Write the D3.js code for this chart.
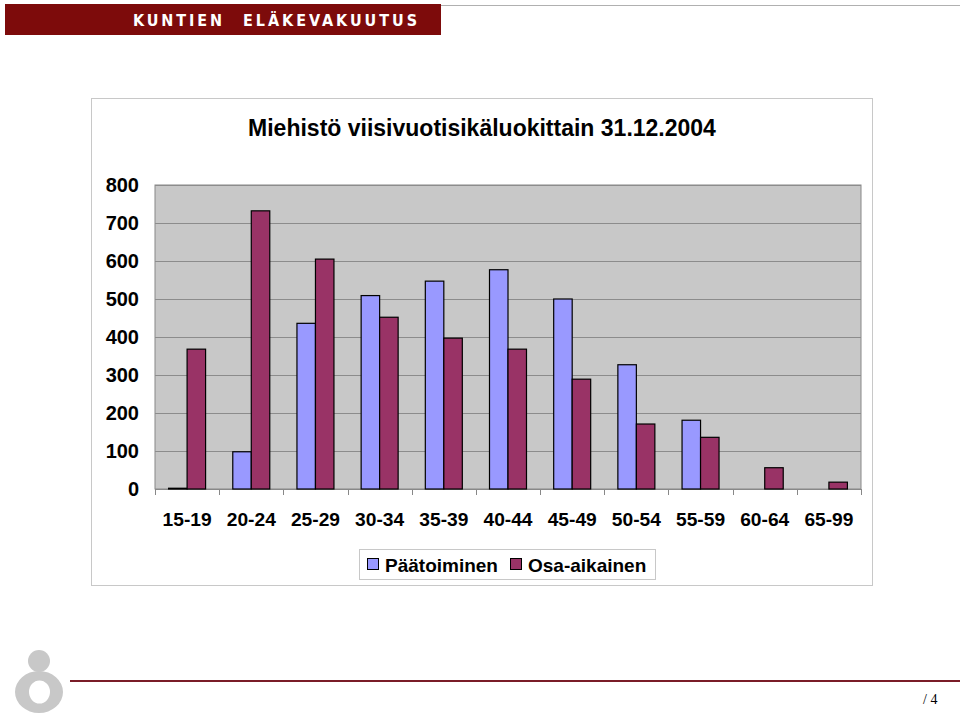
<!DOCTYPE html>
<html><head><meta charset="utf-8">
<script src="https://cdn.jsdelivr.net/npm/d3@7"></script>
<style>body{margin:0;background:#fff}svg{display:block}</style>
</head><body>
<script>
const categories = ["15-19","20-24","25-29","30-34","35-39","40-44","45-49","50-54","55-59","60-64","65-99"];
const paatoiminen = [2, 98, 436, 509, 547, 577, 500, 327, 181, 0, 0];
const osaAikainen = [368, 732, 605, 452, 397, 368, 289, 171, 136, 56, 18];
const seriesNames = ["Päätoiminen", "Osa-aikainen"];
const yTicks = [0,100,200,300,400,500,600,700,800];

const W = 960, H = 715;
const svg = d3.select("body").append("svg").attr("width", W).attr("height", H);
const font = "Liberation Sans, Arial, sans-serif";

// header
svg.append("line").attr("x1",441).attr("x2",960).attr("y1",5.5).attr("y2",5.5).attr("stroke","#b0b0b0").attr("stroke-width",1);
svg.append("rect").attr("x",5).attr("y",4).attr("width",436).attr("height",31).attr("fill","#7d0b0b");
const hdr = svg.append("text").attr("y",26).attr("fill","#fff").attr("font-family","DejaVu Sans Condensed, DejaVu Sans, sans-serif")
  .attr("font-weight","bold").attr("font-size",16);
hdr.append("tspan").attr("x",133).attr("textLength",89).attr("lengthAdjust","spacing").text("KUNTIEN");
hdr.append("tspan").attr("x",243).attr("textLength",174).attr("lengthAdjust","spacing").text("ELÄKEVAKUUTUS");

// chart frame
svg.append("rect").attr("x",91.5).attr("y",98.5).attr("width",781).attr("height",487)
  .attr("fill","#fff").attr("stroke","#c8c8c8");
svg.append("text").attr("x",482).attr("y",136).attr("text-anchor","middle").attr("font-family",font)
  .attr("font-weight","bold").attr("font-size",23).attr("fill","#000")
  .text("Miehistö viisivuotisikäluokittain 31.12.2004");

const m = {l:155, r:861, t:185, b:489};
const x = d3.scaleBand().domain(categories).range([m.l, m.r]);
const xs = d3.scaleBand().domain(seriesNames).range([0, x.bandwidth()]).paddingInner(0).paddingOuter(0.735);
const y = d3.scaleLinear().domain([0,800]).range([m.b, m.t]);

svg.append("rect").attr("x",m.l).attr("y",m.t).attr("width",m.r-m.l).attr("height",m.b-m.t)
  .attr("fill","#c8c8c8").attr("stroke","#888").attr("stroke-width",1);

svg.append("g").selectAll("line").data(yTicks.slice(1)).join("line")
  .attr("x1",m.l).attr("x2",m.r).attr("y1",d=>Math.round(y(d))+0.5).attr("y2",d=>Math.round(y(d))+0.5)
  .attr("stroke","#8c8c8c").attr("stroke-width",1);

// y axis labels
const yAxis = d3.axisLeft(y).tickValues(yTicks).tickSize(0).tickPadding(16);
const gy = svg.append("g").attr("transform",`translate(${m.l},0)`).call(yAxis);
gy.select(".domain").remove();
gy.selectAll("text").attr("font-family",font).attr("font-size",20).attr("fill","#000").attr("font-weight","bold");

// x axis
const xAxis = d3.axisBottom(x).tickSize(0).tickPadding(23);
const gx = svg.append("g").attr("transform",`translate(0,${m.b})`).call(xAxis);
gx.select(".domain").attr("stroke","#888");
gx.selectAll("text").attr("font-family",font).attr("font-size",19.2).attr("fill","#000").attr("font-weight","bold");
svg.append("g").selectAll("line").data(d3.range(categories.length+1)).join("line")
  .attr("x1",i=>Math.round(m.l + i*x.step())+0.5).attr("x2",i=>Math.round(m.l + i*x.step())+0.5)
  .attr("y1",m.b).attr("y2",m.b+6).attr("stroke","#888");

const colors = {"Päätoiminen":"#9999ff","Osa-aikainen":"#993366"};
const data = categories.map((c,i)=>({c, vals:[{s:seriesNames[0],v:paatoiminen[i]},{s:seriesNames[1],v:osaAikainen[i]}]}));
const g = svg.append("g").selectAll("g").data(data).join("g").attr("transform",d=>`translate(${x(d.c)},0)`);
g.selectAll("rect").data(d=>d.vals.filter(e=>e.v>0)).join("rect")
  .attr("x",d=>xs(d.s)).attr("width",xs.bandwidth())
  .attr("y",d=>y(d.v)).attr("height",d=>y(0)-y(d.v))
  .attr("fill",d=>colors[d.s]).attr("stroke","#000").attr("stroke-width",1.2);

// legend
svg.append("rect").attr("x",359.5).attr("y",549.5).attr("width",296).attr("height",30).attr("fill","#fff").attr("stroke","#c8c8c8");
const lg = svg.append("g").selectAll("g").data(seriesNames).join("g")
  .attr("transform",(d,i)=>`translate(${i===0?367:510},0)`);
lg.append("rect").attr("x",0.5).attr("y",558.5).attr("width",11).attr("height",11).attr("fill",d=>colors[d]).attr("stroke","#000");
lg.append("text").attr("x",18).attr("y",572).attr("font-family",font).attr("font-size",19).attr("font-weight","bold").attr("fill","#000").text(d=>d);

// footer
const logo = svg.append("g").attr("fill","#c8c8c8");
logo.append("circle").attr("cx",39).attr("cy",661).attr("r",11);
logo.append("path").attr("fill-rule","evenodd")
  .attr("d","M15,692 a24,21 0 1,0 48,0 a24,21 0 1,0 -48,0 Z M29,692 a10.5,11.5 0 1,0 21,0 a10.5,11.5 0 1,0 -21,0 Z");
svg.append("line").attr("x1",70).attr("x2",960).attr("y1",681).attr("y2",681).attr("stroke","#7a1c28").attr("stroke-width",2);
svg.append("text").attr("x",923).attr("y",704).attr("font-family","Liberation Serif, serif").attr("font-size",14).attr("fill","#000").text("/ 4");
</script>
</body></html>
